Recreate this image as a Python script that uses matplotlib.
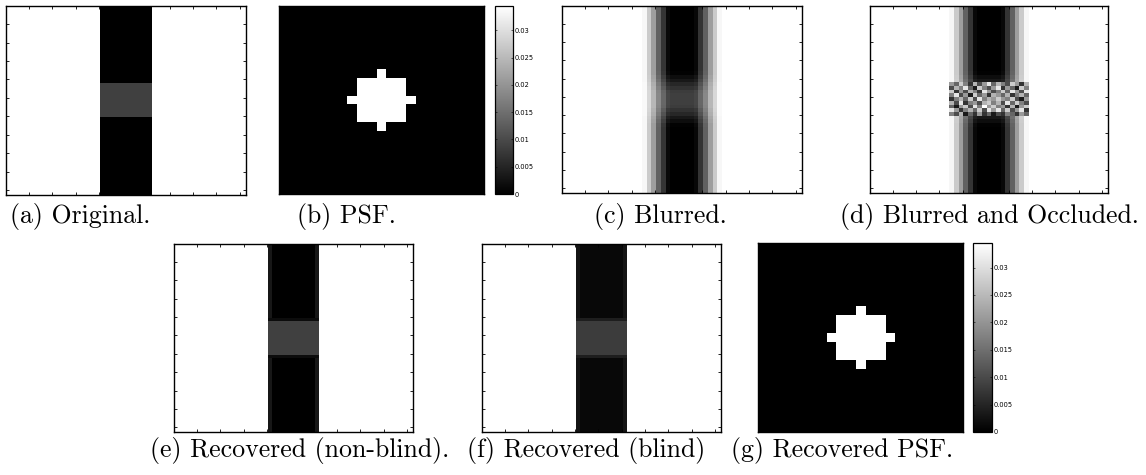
import numpy as np
import matplotlib
matplotlib.use("Agg")
import matplotlib.pyplot as plt
from matplotlib.colors import Normalize

# ---------------- data ----------------
GRID_N = 51                 # test image is GRID_N x GRID_N
BACKGROUND = 1.0
BAND_VALUE = 0.0
GRAY_VALUE = 0.25
BAND_COLS = (20, 31)        # dark vertical band (start, stop)
GRAY_ROWS = (21, 30)        # gray strip inside the band

PSF_N = 21
PSF_MASK = ["...X...",
            ".XXXXX.",
            ".XXXXX.",
            "XXXXXXX",
            ".XXXXX.",
            ".XXXXX.",
            "...X..."]

OCC_ROWS = (21, 30)
OCC_COLS = (17, 34)
OCC_VALUES = [
    [0.6, 0.4, 0.8, 0.5, 0.2, 0.7, 0.3, 0.6, 0.9, 0.4, 0.7, 0.5, 0.3, 0.8, 0.6, 0.2, 0.7],
    [0.3, 0.7, 0.5, 0.9, 0.4, 0.1, 0.8, 0.5, 0.3, 0.6, 0.9, 0.2, 0.6, 0.4, 0.1, 0.8, 0.5],
    [0.8, 0.2, 0.6, 0.3, 0.7, 0.5, 0.2, 0.9, 0.6, 0.3, 0.5, 0.8, 0.4, 0.9, 0.6, 0.3, 0.9],
    [0.5, 0.9, 0.3, 0.6, 0.1, 0.8, 0.4, 0.6, 0.2, 0.7, 0.6, 0.4, 0.7, 0.2, 0.5, 0.7, 0.4],
    [0.2, 0.5, 0.7, 0.4, 0.8, 0.3, 0.9, 0.5, 0.7, 0.6, 0.8, 0.6, 0.5, 0.8, 0.3, 0.1, 0.6],
    [0.7, 0.3, 0.9, 0.2, 0.5, 0.6, 0.3, 0.7, 0.8, 0.5, 0.7, 0.3, 0.9, 0.4, 0.8, 0.5, 0.3],
    [0.4, 0.1, 0.6, 0.8, 0.3, 0.9, 0.5, 1.0, 0.6, 0.8, 0.5, 0.6, 0.2, 0.7, 0.1, 0.6, 0.8],
    [0.9, 0.6, 0.2, 0.5, 0.7, 0.4, 0.8, 0.3, 0.9, 0.6, 0.9, 0.4, 0.8, 0.3, 0.6, 0.9, 0.2],
    [0.5, 0.3, 0.7, 0.1, 0.4, 0.2, 0.6, 0.2, 0.4, 0.1, 0.3, 0.2, 0.5, 0.4, 0.2, 0.6, 0.4],
]

# recovered images: residual artefacts at band edges
NB_EDGE_VALUE = 0.09        # non-blind: edge columns of the band
NB_FRINGE_VALUE = 0.05      # non-blind: rows bordering the gray strip
BL_BAND_VALUE = 0.035       # blind: band level
BL_EDGE_VALUE = 0.08
BL_GRAY_VALUE = 0.24
BL_FRINGE_VALUE = 0.12

TICKS = [25, 50, 75, 100, 125, 150, 175, 200, 225, 250]
CBAR_TICKS = [0, 0.005, 0.01, 0.015, 0.02, 0.025, 0.03]
CBAR_LABELS = ["0", "0.005", "0.01", "0.015", "0.02", "0.025", "0.03"]

CAPTIONS = ["(a) Original.", "(b) PSF.", "(c) Blurred.", "(d) Blurred and Occluded.",
            "(e) Recovered (non-blind).", "(f) Recovered (blind)", "(g) Recovered PSF."]

# ---------------- build images ----------------
orig = np.full((GRID_N, GRID_N), BACKGROUND)
orig[:, BAND_COLS[0]:BAND_COLS[1]] = BAND_VALUE
orig[GRAY_ROWS[0]:GRAY_ROWS[1], BAND_COLS[0]:BAND_COLS[1]] = GRAY_VALUE

mask = np.array([[c == "X" for c in row] for row in PSF_MASK], dtype=float)
psf = np.zeros((PSF_N, PSF_N))
c0 = PSF_N // 2 - mask.shape[0] // 2
psf[c0:c0 + mask.shape[0], c0:c0 + mask.shape[1]] = mask
psf /= psf.sum()


def blur(img, kernel):
    k = kernel.shape[0] // 2
    p = np.pad(img, k, mode="edge")
    out = np.zeros_like(img)
    for dy, dx in zip(*np.nonzero(kernel)):
        out += kernel[dy, dx] * p[dy:dy + img.shape[0], dx:dx + img.shape[1]]
    return out


blurred = blur(orig, psf)
occluded = blurred.copy()
occluded[OCC_ROWS[0]:OCC_ROWS[1], OCC_COLS[0]:OCC_COLS[1]] = np.array(OCC_VALUES)

b0, b1 = BAND_COLS
g0, g1 = GRAY_ROWS

rec_nb = orig.copy()
rec_nb[:, b0] = NB_EDGE_VALUE
rec_nb[:, b1 - 1] = NB_EDGE_VALUE
rec_nb[g0:g1, b0:b1] = GRAY_VALUE
rec_nb[g0 - 1, b0:b1] = NB_FRINGE_VALUE
rec_nb[g1, b0:b1] = NB_FRINGE_VALUE

rec_bl = orig.copy()
rec_bl[:, b0:b1] = BL_BAND_VALUE
rec_bl[:, b0] = BL_EDGE_VALUE
rec_bl[:, b1 - 1] = BL_EDGE_VALUE
rec_bl[g0:g1, b0:b1] = BL_GRAY_VALUE
rec_bl[g0 - 1, b0:b1] = BL_FRINGE_VALUE
rec_bl[g1, b0:b1] = BL_FRINGE_VALUE

# ---------------- figure ----------------
W, H, DPI = 1146, 475, 100
fig = plt.figure(figsize=(W / DPI, H / DPI), dpi=DPI)
fig.patch.set_facecolor("white")


def px_axes(l, t, r, b):
    return fig.add_axes([l / W, 1 - b / H, (r - l) / W, (b - t) / H])


def show_image(ax, img):
    ax.imshow(img, cmap="gray", vmin=0, vmax=1, interpolation="nearest",
              aspect="auto", extent=(0.5, 256.5, 256.5, 0.5))
    ax.set_xticks(TICKS)
    ax.set_yticks(TICKS)
    ax.tick_params(direction="in", length=2.2, width=0.6, top=True, right=True,
                   labelbottom=False, labelleft=False)
    for s in ax.spines.values():
        s.set_linewidth(1.0)


def show_psf(ax, cax, img):
    im = ax.imshow(img, cmap="gray", norm=Normalize(0, img.max()),
                   interpolation="nearest", aspect="auto")
    ax.set_xticks([])
    ax.set_yticks([])
    for s in ax.spines.values():
        s.set_linewidth(1.0)
    cb = fig.colorbar(im, cax=cax, ticks=CBAR_TICKS)
    cb.ax.set_yticklabels(CBAR_LABELS)
    cb.ax.yaxis.set_ticks_position("both")
    cb.ax.tick_params(direction="in", length=1.5, width=0.4, labelsize=4.8,
                      pad=1.5, labelright=True, labelleft=False)
    cb.outline.set_linewidth(0.9)


ax_a = px_axes(6, 6, 246, 195)
show_image(ax_a, orig)
ax_b = px_axes(279, 6, 484, 194)
cax_b = px_axes(495, 6, 513, 194)
show_psf(ax_b, cax_b, psf)
ax_c = px_axes(562, 6, 802, 193)
show_image(ax_c, blurred)
ax_d = px_axes(870, 6, 1108, 193)
show_image(ax_d, occluded)

ax_e = px_axes(174, 244, 413, 432)
show_image(ax_e, rec_nb)
ax_f = px_axes(482, 244, 721, 432)
show_image(ax_f, rec_bl)
ax_g = px_axes(758, 243, 963, 432)
cax_g = px_axes(973, 243, 992, 432)
show_psf(ax_g, cax_g, psf)

cap_pos = [(80, 216), (346, 216), (660, 216), (989, 216),
           (300, 450), (586, 450), (842, 450)]
for txt, (x, y) in zip(CAPTIONS, cap_pos):
    fig.text(x / W, 1 - y / H, txt, ha="center", va="center",
             fontfamily="cmr10", fontsize=18.6)

fig.savefig("out.png", dpi=DPI, facecolor="white")
